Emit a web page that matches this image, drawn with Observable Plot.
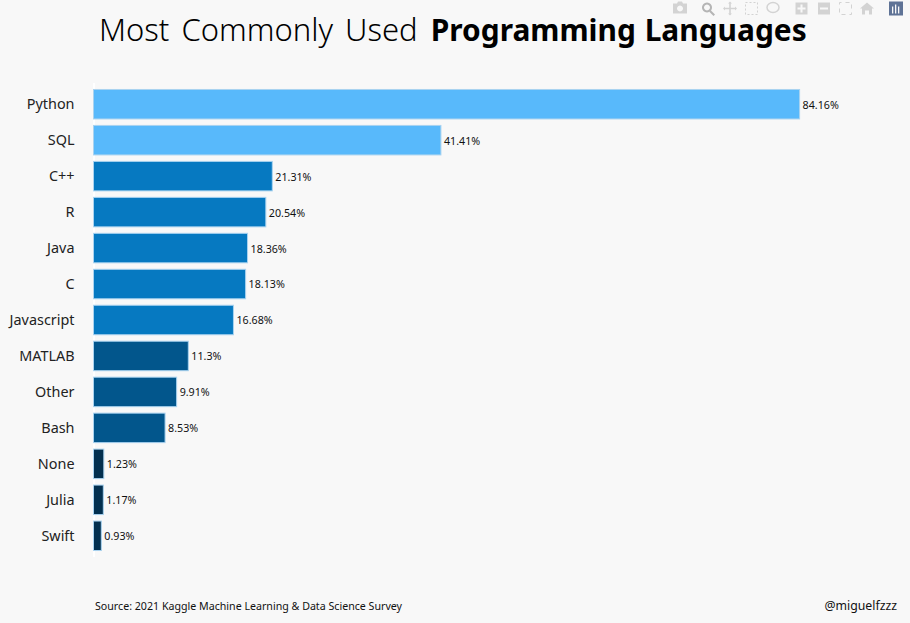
<!DOCTYPE html>
<html>
<head>
<meta charset="utf-8">
<script src="https://cdn.jsdelivr.net/npm/d3@7"></script>
<script src="https://cdn.jsdelivr.net/npm/@observablehq/plot@0.6"></script>
<style>
html,body{margin:0;padding:0;background:#f8f8f8;}
#page{position:relative;width:910px;height:623px;overflow:hidden;background:#f8f8f8;font-family:"Noto Sans",sans-serif;color:#000;}
#title{position:absolute;left:99px;top:6px;font-size:31px;font-weight:300;line-height:46px;white-space:nowrap;word-spacing:4px;}
#title b{font-weight:700;font-size:29.9px;word-spacing:1px;margin-left:1px;}
#chart{position:absolute;left:0;top:60px;}
#source{position:absolute;left:95px;top:598px;font-size:10.65px;line-height:16px;color:#111;}
#handle{position:absolute;right:13px;top:597px;font-size:12.3px;line-height:18px;color:#111;}
#bar{position:absolute;left:0;top:0;}
svg{background:transparent;}
</style>
</head>
<body>
<div id="page">
<div id="title">Most Commonly Used <b>Programming Languages</b></div>
<div id="chart"></div>
<div id="source">Source: 2021 Kaggle Machine Learning &amp; Data Science Survey</div>
<div id="handle">@miguelfzzz</div>
<svg id="bar" width="910" height="24"></svg>
</div>
<script>
const languages = ["Python","SQL","C++","R","Java","C","Javascript","MATLAB","Other","Bash","None","Julia","Swift"];
const shares = [84.16,41.41,21.31,20.54,18.36,18.13,16.68,11.3,9.91,8.53,1.23,1.17,0.93];
const tiers = ["top","top","mid","mid","mid","mid","mid","low","low","low","min","min","min"];
const tierNames = ["top","mid","low","min"];
const tierColors = ["#58b9fb","#0679c1","#02568c","#03304f"];
const rows = languages.map((language,i)=>({language,share:shares[i],tier:tiers[i],label:shares[i]+"%"}));

const plot = Plot.plot({
  width:910,height:500,
  marginLeft:93.5,marginRight:26,marginTop:23,marginBottom:3,
  style:{background:"transparent",fontFamily:'"Noto Sans",sans-serif',color:"#000"},
  x:{domain:[0,94.16],range:[93.5,883.5],axis:null},
  y:{domain:languages,padding:0.18,align:0.5,round:false,label:null,tickSize:0,tickPadding:19},
  color:{domain:tierNames,range:tierColors},
  marks:[
    Plot.ruleX([0],{stroke:"#ffffff",strokeWidth:2}),
    Plot.barX(rows,{x:"share",y:"language",fill:"tier",stroke:"#a9d3f0",strokeWidth:1}),
    Plot.text(rows,{x:"share",y:"language",text:"label",textAnchor:"start",dx:2.5,dy:0.5,fontSize:10.7,fill:"#111"}),
    Plot.axisY({tickSize:0,tickPadding:19.5,fontSize:14.4,label:null,fill:"#222"})
  ]
});
document.getElementById("chart").appendChild(plot);

// Chart-viewer toolbar shown in the corner of the reference
const bar = d3.select("#bar");
const g = "#d3d3d3";
const icons = [
  [680,"M-7-5h4l1-2h4l1 2h4v10h-14zM0-3a3 3 0 1 0 .01 0z",g],
  [708,"M-1-6a5 5 0 1 0 .01 0zM-1-4a3 3 0 1 1 -.01 0zM3 2l4 4-1.5 1.5-4-4z","#b5b5b5"],
  [730,"M0-7l2 2h-1.2v4.2h4.2v-1.2l2 2-2 2v-1.2h-4.2v4.2h1.2l-2 2-2-2h1.2v-4.2h-4.2v1.2l-2-2 2-2v1.2h4.2v-4.2h-1.2z",g],
  [801.5,"M-6-6h12v12h-12zM-1-4v3h-3v2h3v3h2v-3h3v-2h-3v-3z",g],
  [824,"M-6-6h12v12h-12zM-4-1v2h8v-2z",g],
  [867,"M0-6l7 6h-2v6h-3v-4h-4v4h-3v-6h-2z",g],
  [896,"M-7-7h14v14h-14zM-4-2v7h1.3v-7zM-1-4v9h1.3v-9zM2-2v7h1.3v-7z","#5f7396"]
];
bar.selectAll("path").data(icons).join("path")
  .attr("transform",d=>`translate(${d[0]},8.5)`)
  .attr("d",d=>d[1]).attr("fill",d=>d[2]).attr("fill-rule","evenodd");
bar.append("rect").attr("x",745.5).attr("y",2.5).attr("width",12).attr("height",12)
  .attr("fill","none").attr("stroke",g).attr("stroke-dasharray","2 2");
bar.append("ellipse").attr("cx",773).attr("cy",7.5).attr("rx",6).attr("ry",5)
  .attr("fill","none").attr("stroke",g).attr("stroke-width",1.5);
bar.append("rect").attr("x",839.5).attr("y",2.5).attr("width",12).attr("height",12)
  .attr("fill","none").attr("stroke",g).attr("stroke-dasharray","4 4").attr("stroke-dashoffset",2);
</script>
</body>
</html>
